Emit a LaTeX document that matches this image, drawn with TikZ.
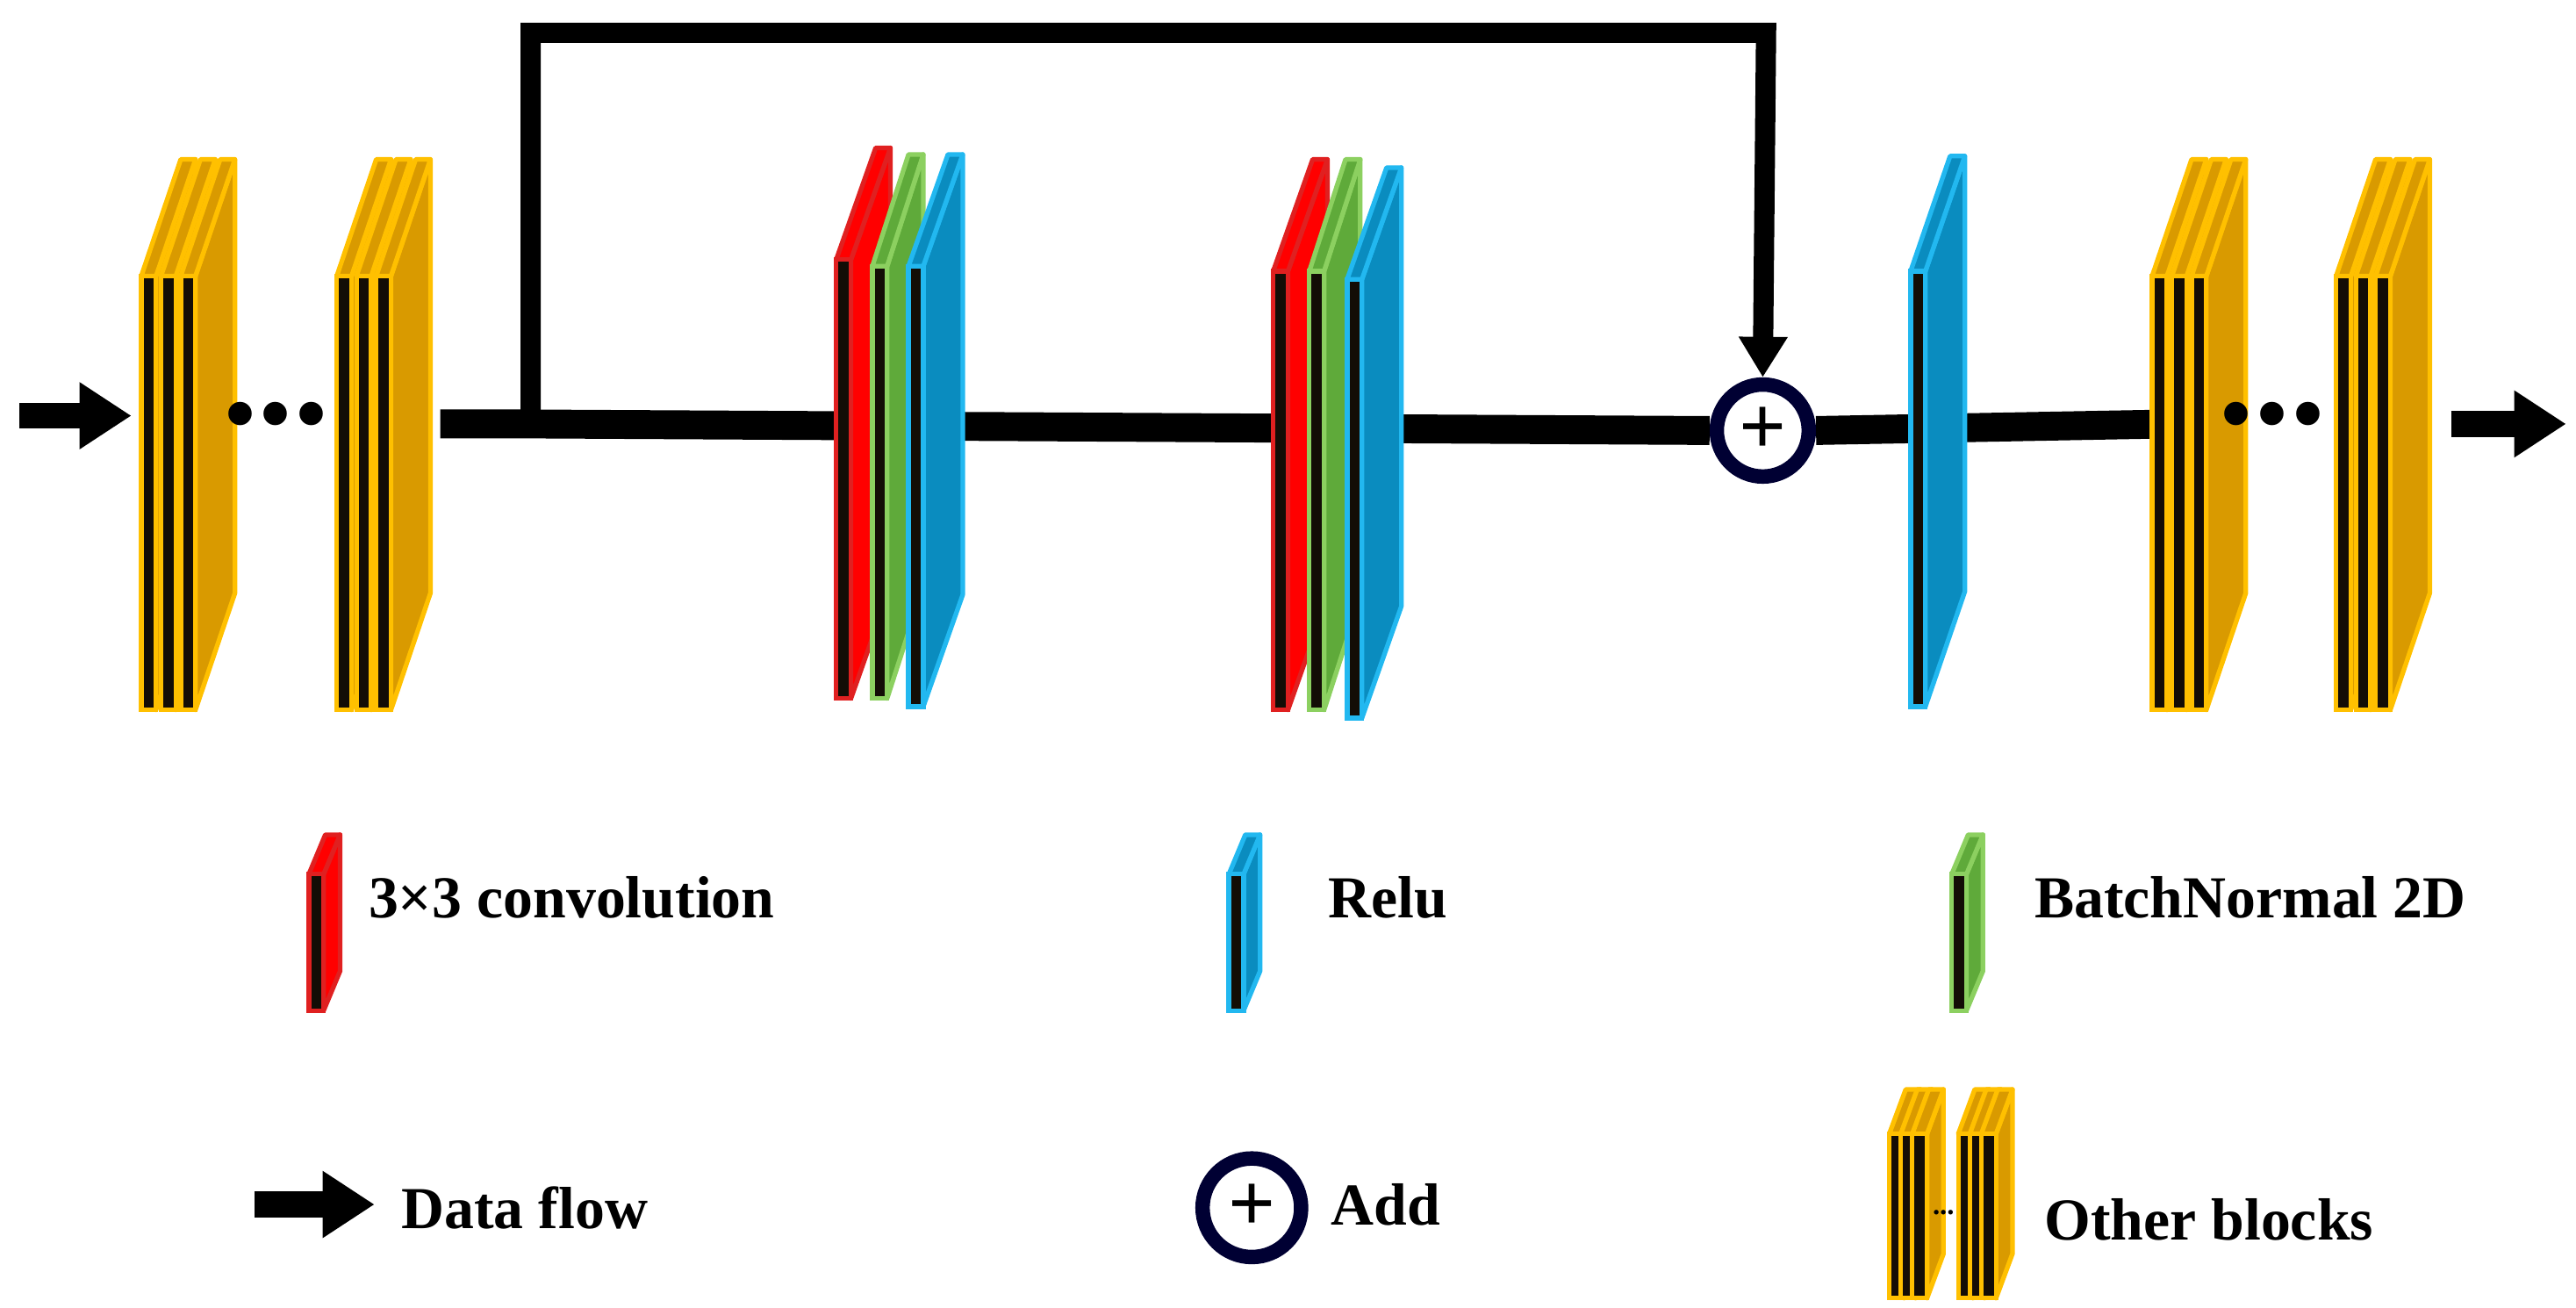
\documentclass[tikz,border=0pt]{standalone}
\usepackage{fontspec}
\setmainfont{Liberation Serif}
\usetikzlibrary{arrows.meta}
\definecolor{ofill}{HTML}{D99A00}
\definecolor{obord}{HTML}{FFC000}
\definecolor{rfill}{HTML}{FF0000}
\definecolor{rbord}{HTML}{E02020}
\definecolor{gfill}{HTML}{5FAA3A}
\definecolor{gbord}{HTML}{8CD060}
\definecolor{bfill}{HTML}{0A8CBF}
\definecolor{bbord}{HTML}{22B8F0}
% x0, ytop, ybot, dx, dy, fill, border
\newcommand{\myslab}[7]{%
 \filldraw[fill=#6,draw=#7,line width=0.8pt,line join=round]
   (#1+9,#2) -- (#1+9+#4,#2+#5) -- (#1+9+#4,#3+#5) -- (#1+9,#3) -- cycle;
 \filldraw[fill=#6,draw=#7,line width=0.8pt,line join=round]
   (#1,#2) -- (#1+#4,#2+#5) -- (#1+9+#4,#2+#5) -- (#1+9,#2) -- cycle;
 \filldraw[fill=black!90!brown,draw=#7,line width=0.8pt]
   (#1,#2) rectangle (#1+9,#3);}
\newcommand{\oblock}[1]{%
 \myslab{#1}{168}{432}{24}{-71}{ofill}{obord}
 \myslab{#1+12}{168}{432}{24}{-71}{ofill}{obord}
 \myslab{#1+24}{168}{432}{24}{-71}{ofill}{obord}}
\newcommand{\smallob}[1]{%
 \myslab{#1}{690}{790}{10}{-27}{ofill}{obord}
 \myslab{#1+7}{690}{790}{10}{-27}{ofill}{obord}
 \myslab{#1+14}{690}{790}{10}{-27}{ofill}{obord}}
\tikzset{
 flow/.style={line width=5pt},
 fat/.style={-{Triangle[length=9pt 0,width=11pt 0]},line width=4.5pt},
 add/.style={circle,draw=black!80!blue,line width=2.5pt,minimum size=56*0.01cm,inner sep=0pt,fill=white,font=\bfseries\Large},
 lbl/.style={anchor=west,font=\bfseries\fontsize{10.3}{12}\selectfont},
 dots/.style={font=\bfseries\Huge}
}
\begin{document}
\begin{tikzpicture}[x=0.01cm,y=-0.01cm]
\useasboundingbox (0,0) rectangle (1568,796);
\coordinate (in0) at (12,253);
\coordinate (in1) at (80,253);
\coordinate (b2r) at (268,258);
\coordinate (sk) at (323,258);
\coordinate (o4r) at (1492,258);
\coordinate (out) at (1562,258);
\node[add] (plus) at (1073,262) {+};
\draw[flow] (b2r) -- (sk) -- (plus.west);
\draw[flow] (plus.east) -- (1320,258);
\draw[line width=3.5pt,-{Triangle[length=7pt 0,width=8pt 0]}] (sk) -- (323,20) -- (1075,20) -- (plus.north);
\draw[fat] (in0) -- (in1);
\draw[fat] (o4r) -- (out);
\oblock{86}
\oblock{205}
\node[dots] (d1) at (168,252) {...};
\myslab{509}{158}{425}{24}{-68}{rfill}{rbord}
\myslab{531}{162}{425}{22}{-68}{gfill}{gbord}
\myslab{553}{162}{430}{24}{-68}{bfill}{bbord}
\myslab{775}{165}{432}{24}{-68}{rfill}{rbord}
\myslab{797}{165}{432}{22}{-68}{gfill}{gbord}
\myslab{820}{170}{437}{24}{-68}{bfill}{bbord}
\myslab{1163}{165}{430}{24}{-70}{bfill}{bbord}
\oblock{1310}
\oblock{1422}
\node[dots] (d2) at (1383,252) {...};
\myslab{188}{532}{615}{10}{-24}{rfill}{rbord}
\node[lbl] (l1) at (212,546) {3×3 convolution};
\myslab{748}{532}{615}{10}{-24}{bfill}{bbord}
\node[lbl] (l2) at (796,546) {Relu};
\myslab{1188}{532}{615}{10}{-24}{gfill}{gbord}
\node[lbl] (l3) at (1226,546) {BatchNormal 2D};
\coordinate (a0) at (155,733);
\coordinate (a1) at (228,733);
\draw[fat] (a0) -- (a1);
\node[lbl] (l4) at (232,735) {Data flow};
\node[add,minimum size=60*0.01cm] (plus2) at (762,735) {+};
\node[lbl] (l5) at (798,733) {Add};
\smallob{1150}
\smallob{1192}
\node[font=\bfseries\tiny] (d3) at (1183,738) {...};
\node[lbl] (l6) at (1232,742) {Other blocks};
\end{tikzpicture}
\end{document}
